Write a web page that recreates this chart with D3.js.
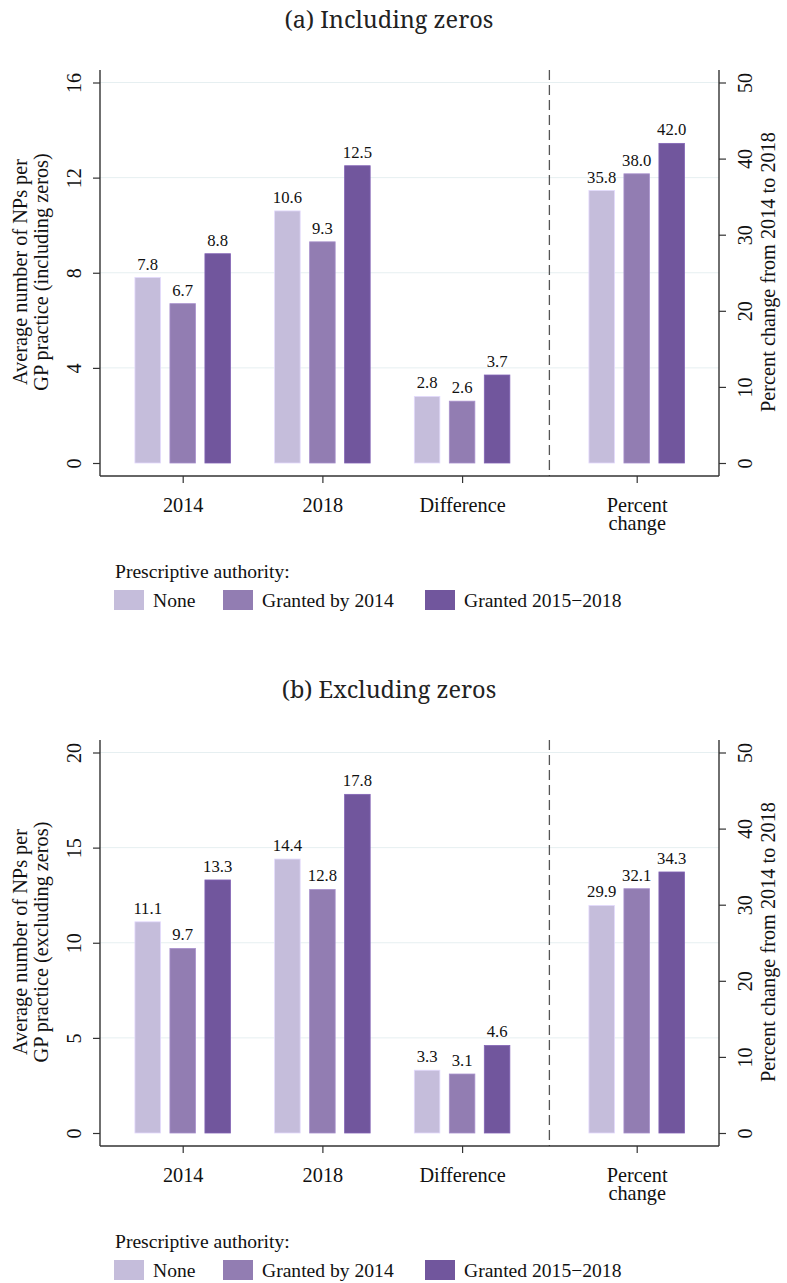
<!DOCTYPE html>
<meta charset="utf-8">
<style>
  html, body { margin: 0; padding: 0; background: #fff; }
  svg { display: block; }
</style>
<svg id="chart" width="787" height="1283"></svg>
<script src="https://cdn.jsdelivr.net/npm/d3@7"></script>
<script>

  // categories on the x axis and where they sit (Stata-like positions)
  const categories = ["2014", "2018", "Difference", "Percent change"];
  const catPos = [1, 2, 3, 4.25];
  const groups = ["None", "Granted by 2014", "Granted 2015\u22122018"];
  const colors = ["#c5bddb", "#927db2", "#71569d"];

  // (a) including zeros
  const incNone   = [7.8, 10.6, 2.8, 35.8];
  const incBy2014 = [6.7, 9.3, 2.6, 38.0];
  const inc1518   = [8.8, 12.5, 3.7, 42.0];
  // (b) excluding zeros
  const excNone   = [11.1, 14.4, 3.3, 29.9];
  const excBy2014 = [9.7, 12.8, 3.1, 32.1];
  const exc1518   = [13.3, 17.8, 4.6, 34.3];

  const leftTicksA = [0, 4, 8, 12, 16];
  const leftTicksB = [0, 5, 10, 15, 20];
  const rightTicks = [0, 10, 20, 30, 40, 50];

  const SERIF = '"Liberation Serif", "Times New Roman", Times, serif';
  const TITLE = '"Noto Serif", "DejaVu Serif", serif';
  const INK = "#111";

  const svg = d3.select("#chart");

  // plot frame (shared by both panels, panel b shifted down)
  const pLeft = 100, pRight = 719, pTop = 70, pBottom = 476;

  const x = d3.scaleLinear().domain([1, 4.25]).range([182.7, 636.7]);
  const off = d3.scaleBand().domain(groups).range([-52.5, 52.5])
    .paddingInner(0.27).paddingOuter(0.135);

  function txt(sel, size) {
    return sel.style("font-family", SERIF).style("font-size", size + "px").attr("fill", INK);
  }

  function drawPanel(dy, title, series, leftTicks, ytitle) {
    let g = svg.append("g").attr("transform", `translate(0,${dy})`);

    let yL = d3.scaleLinear().domain([0, d3.max(leftTicks)]).range([463, 82.5]);
    let yR = d3.scaleLinear().domain([0, d3.max(rightTicks)]).range([463, 82.5]);

    g.append("text")
      .attr("x", 389).attr("y", 28)
      .attr("text-anchor", "middle")
      .attr("fill", "#222")
      .style("font-family", TITLE)
      .style("font-size", "23.5px")
      .text(title);

    // gridlines
    g.selectAll(".grid").data(leftTicks.filter(d => d > 0))
      .enter().append("line")
      .attr("x1", pLeft).attr("x2", pRight)
      .attr("y1", d => yL(d)).attr("y2", d => yL(d))
      .attr("stroke", "#e6eff1").attr("stroke-width", 1);

    // dashed separator
    g.append("line")
      .attr("x1", x(3.625)).attr("x2", x(3.625))
      .attr("y1", pTop).attr("y2", pBottom)
      .attr("stroke", "#555").attr("stroke-width", 1.3)
      .attr("stroke-dasharray", "10,5");

    // bars
    categories.forEach((c, i) => {
      let ys = i === 3 ? yR : yL;
      groups.forEach((grp, j) => {
        let v = series[j][i];
        let bx = x(catPos[i]) + off(grp);
        g.append("rect")
          .attr("x", bx).attr("width", off.bandwidth())
          .attr("y", ys(v)).attr("height", ys(0) - ys(v))
          .attr("fill", colors[j])
          .attr("stroke", d3.color(colors[j]).brighter(0.4))
          .attr("stroke-width", 0.8);
        txt(g.append("text"), 16.7)
          .attr("x", bx + off.bandwidth() / 2)
          .attr("y", ys(v) - 8)
          .attr("text-anchor", "middle")
          .text(v.toFixed(1));
      });
    });

    // left axis
    let axL = g.append("g").attr("transform", `translate(${pLeft},0)`)
      .call(d3.axisLeft(yL).tickValues(leftTicks).tickSize(7).tickSizeOuter(0));
    axL.select(".domain").remove();
    axL.selectAll("line").attr("stroke", "#333").attr("stroke-width", 1.2);
    txt(axL.selectAll("text"), 20)
      .attr("transform", "rotate(-90)")
      .attr("x", 0).attr("y", -19).attr("dy", 0)
      .attr("text-anchor", "middle");

    // right axis
    let axR = g.append("g").attr("transform", `translate(${pRight},0)`)
      .call(d3.axisRight(yR).tickValues(rightTicks).tickSize(7).tickSizeOuter(0));
    axR.select(".domain").remove();
    axR.selectAll("line").attr("stroke", "#333").attr("stroke-width", 1.2);
    txt(axR.selectAll("text"), 20)
      .attr("transform", "rotate(-90)")
      .attr("x", 0).attr("y", 33).attr("dy", 0)
      .attr("text-anchor", "middle");

    // bottom axis
    let axB = g.append("g").attr("transform", `translate(0,${pBottom})`)
      .call(d3.axisBottom(x).tickValues(catPos).tickSize(7).tickSizeOuter(0).tickFormat(""));
    axB.select(".domain").remove();
    axB.selectAll("line").attr("stroke", "#333").attr("stroke-width", 1.2);
    txt(axB.selectAll(".tick").append("text"), 20.3)
      .attr("text-anchor", "middle")
      .selectAll("tspan")
      .data((d, i) => categories[i] === "Percent change" ? ["Percent", "change"] : [categories[i]])
      .enter().append("tspan")
      .attr("x", 0)
      .attr("y", (d, k) => 35.5 + k * 18.5)
      .text(d => d);

    // frame lines
    let frame = g.append("g").attr("stroke", "#333").attr("stroke-width", 1.4);
    frame.append("line").attr("x1", pLeft).attr("x2", pLeft).attr("y1", pTop).attr("y2", pBottom);
    frame.append("line").attr("x1", pRight).attr("x2", pRight).attr("y1", pTop).attr("y2", pBottom);
    frame.append("line").attr("x1", pLeft).attr("x2", pRight).attr("y1", pBottom).attr("y2", pBottom);

    // axis titles
    let lt = txt(g.append("text"), 20.3)
      .attr("transform", `translate(0,272) rotate(-90)`)
      .attr("text-anchor", "middle");
    ytitle.forEach((t, k) => {
      lt.append("tspan").attr("x", 0).attr("y", 27 + k * 21).text(t);
    });

    txt(g.append("text"), 20.3)
      .attr("transform", `translate(775,272) rotate(-90)`)
      .attr("text-anchor", "middle")
      .text("Percent change from 2014 to 2018");

    // legend
    txt(g.append("text"), 19.6).attr("x", 115).attr("y", 578)
      .text("Prescriptive authority:");
    let legX = [114, 223, 425];
    groups.forEach((grp, j) => {
      g.append("rect").attr("x", legX[j]).attr("y", 590)
        .attr("width", 30).attr("height", 20)
        .attr("fill", colors[j]);
      txt(g.append("text"), 19.6).attr("x", legX[j] + 39).attr("y", 606.5)
        .text(grp);
    });
  }

  drawPanel(0, "(a) Including zeros", [incNone, incBy2014, inc1518], leftTicksA,
    ["Average number of NPs per", "GP practice (including zeros)"]);
  drawPanel(670, "(b) Excluding zeros", [excNone, excBy2014, exc1518], leftTicksB,
    ["Average number of NPs per", "GP practice (excluding zeros)"]);

</script>
